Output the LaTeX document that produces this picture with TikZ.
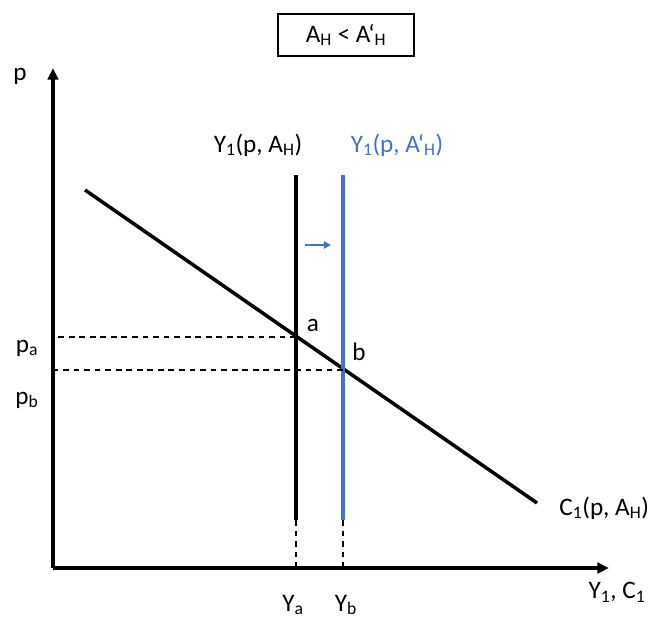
\documentclass[tikz,border=0pt]{standalone}
\usepackage{fontspec}
\setmainfont{Carlito}
\usepackage{xcolor}
\usepackage{tikz}
\usetikzlibrary{positioning,arrows.meta,calc}
\definecolor{shiftblue}{HTML}{4472C4}
\definecolor{dark}{HTML}{000000}
\newcommand{\lo}[1]{\textsubscript{#1}}
\tikzset{
    axis/.style={-{Triangle[length=10pt, width=9pt]}, line width=3pt, color=dark},
    curve/.style={line width=3pt, color=dark},
    guide/.style={dashed, line width=1.2pt, dash pattern=on 5pt off 4pt, color=dark},
    lbl/.style={font=\fontsize{21.5}{24}\selectfont, inner sep=1pt},
    titlebox/.style={rectangle, draw, line width=1.2pt, minimum width=136*0.03cm, minimum height=42*0.03cm, font=\fontsize{21.5}{24}\selectfont}
}

\begin{document}
\begin{tikzpicture}[x=0.03cm, y=-0.03cm]
\useasboundingbox (0,0) rectangle (657,625);

% Title
\node[titlebox] (title) at (346,35) {A\lo{H} < A‘\lo{H}};

% Axes
\coordinate (origin) at (53,568);
\coordinate (ytip) at (53,68);
\coordinate (xtip) at (609,568);
\draw[axis] (origin) -- (ytip);
\draw[axis] (origin) -- (xtip);
\node[lbl] (plabel) at (20,76) {p};
\node[lbl] (xlabel) at (617,592) {Y\lo{1}, C\lo{1}};

% Consumption curve
\coordinate (cstart) at (85,190);
\coordinate (cend) at (537,503);
\draw[curve] (cstart) -- (cend);
\node[lbl, anchor=west] (clabel) at (558,508) {C\lo{1}(p, A\lo{H})};

% Output lines
\coordinate (ytop) at (296,175);
\coordinate (ybot) at (296,520);
\coordinate (ybtop) at (343,175);
\coordinate (ybbot) at (343,520);
\draw[curve] (ytop) -- (ybot);
\draw[curve, color=shiftblue] (ybtop) -- (ybbot);
\node[lbl] (ylabel) at (258,145) {Y\lo{1}(p, A\lo{H})};
\node[lbl, text=shiftblue] (ybluelabel) at (397,145) {Y\lo{1}(p, A‘\lo{H})};

% Shift arrow
\coordinate (sfrom) at (305,245);
\coordinate (sto) at (331,245);
\draw[-{Triangle[length=6pt, width=6pt]}, line width=1.8pt, shiftblue] (sfrom) -- (sto);

% Equilibria
\coordinate (a) at (296,337);
\coordinate (b) at (343,370);
\node[lbl] (alabel) at (313,325) {a};
\node[lbl] (blabel) at (359,352) {b};

% Guides
\draw[guide] (a) -- (a -| origin);
\draw[guide] (b) -- (b -| origin);
\draw[guide] (ybot) -- (ybot |- origin);
\draw[guide] (ybbot) -- (ybbot |- origin);
\node[lbl] (palabel) at (27,348) {p\lo{a}};
\node[lbl] (pblabel) at (27,400) {p\lo{b}};
\node[lbl] (yalabel) at (293,605) {Y\lo{a}};
\node[lbl] (yblabel) at (346,605) {Y\lo{b}};

\end{tikzpicture}
\end{document}
